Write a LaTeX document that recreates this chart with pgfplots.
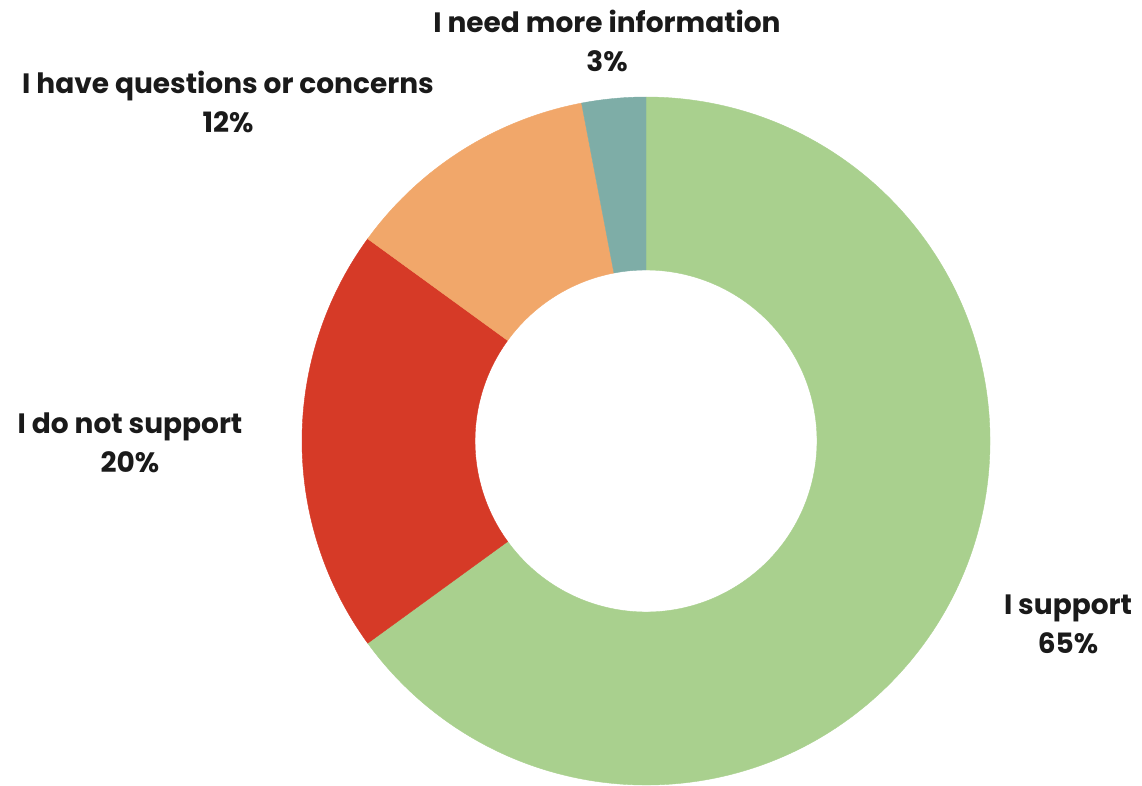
\documentclass[border=0pt]{standalone}
\usepackage{pgfplots}
\pgfplotsset{compat=1.18}
\usepackage{pgfplotstable}
\usepackage{fontspec}
\setmainfont{Poppins}
\definecolor{cSup}{HTML}{A9D08E}
\definecolor{cNot}{HTML}{D63A27}
\definecolor{cQue}{HTML}{F1A76A}
\definecolor{cInf}{HTML}{7EADA7}
\definecolor{txt}{HTML}{1A1A1A}

\pgfplotstableread[col sep=comma]{
label,value,color
I support,65,cSup
I do not support,20,cNot
I have questions or concerns,12,cQue
I need more information,3,cInf
}\datatable

\begin{document}
\begin{tikzpicture}
\begin{axis}[
  x=0.5bp, y=0.5bp,
  xmin=0, xmax=1142, ymin=0, ymax=784,
  hide axis, clip=false,
]
\path (axis cs:0,0) rectangle (axis cs:1142,784);
\gdef\astart{90}
\pgfplotsforeachungrouped \i in {0,...,3} {
  \pgfplotstablegetelem{\i}{value}\of\datatable \let\v\pgfplotsretval
  \pgfplotstablegetelem{\i}{color}\of\datatable \let\c\pgfplotsretval
  \pgfmathsetmacro\aend{\astart-3.6*\v}
  \pgfmathsetmacro\xa{646+344*cos(\astart)}
  \pgfmathsetmacro\ya{343+344*sin(\astart)}
  \pgfmathsetmacro\xb{646+171*cos(\aend)}
  \pgfmathsetmacro\yb{343+171*sin(\aend)}
  \edef\temp{\noexpand\fill[\c, draw=\c, line width=0.2pt] (axis cs:\xa,\ya) arc[start angle=\astart, end angle=\aend, radius=172bp] -- (axis cs:\xb,\yb) arc[start angle=\aend, end angle=\astart, radius=85.5bp] -- cycle;}
  \temp
  \global\let\astart\aend
}
\tikzset{lbl/.style={align=center, text=txt, font=\fontsize{14bp}{19.5bp}\selectfont\bfseries}}
\node[lbl] at (axis cs:607,743) {I need more information\\3\%};
\node[lbl] at (axis cs:228,682) {I have questions or concerns\\12\%};
\node[lbl] at (axis cs:130,341) {I do not support\\20\%};
\node[lbl] at (axis cs:1068,160) {I support\\65\%};
\end{axis}
\end{tikzpicture}
\end{document}
